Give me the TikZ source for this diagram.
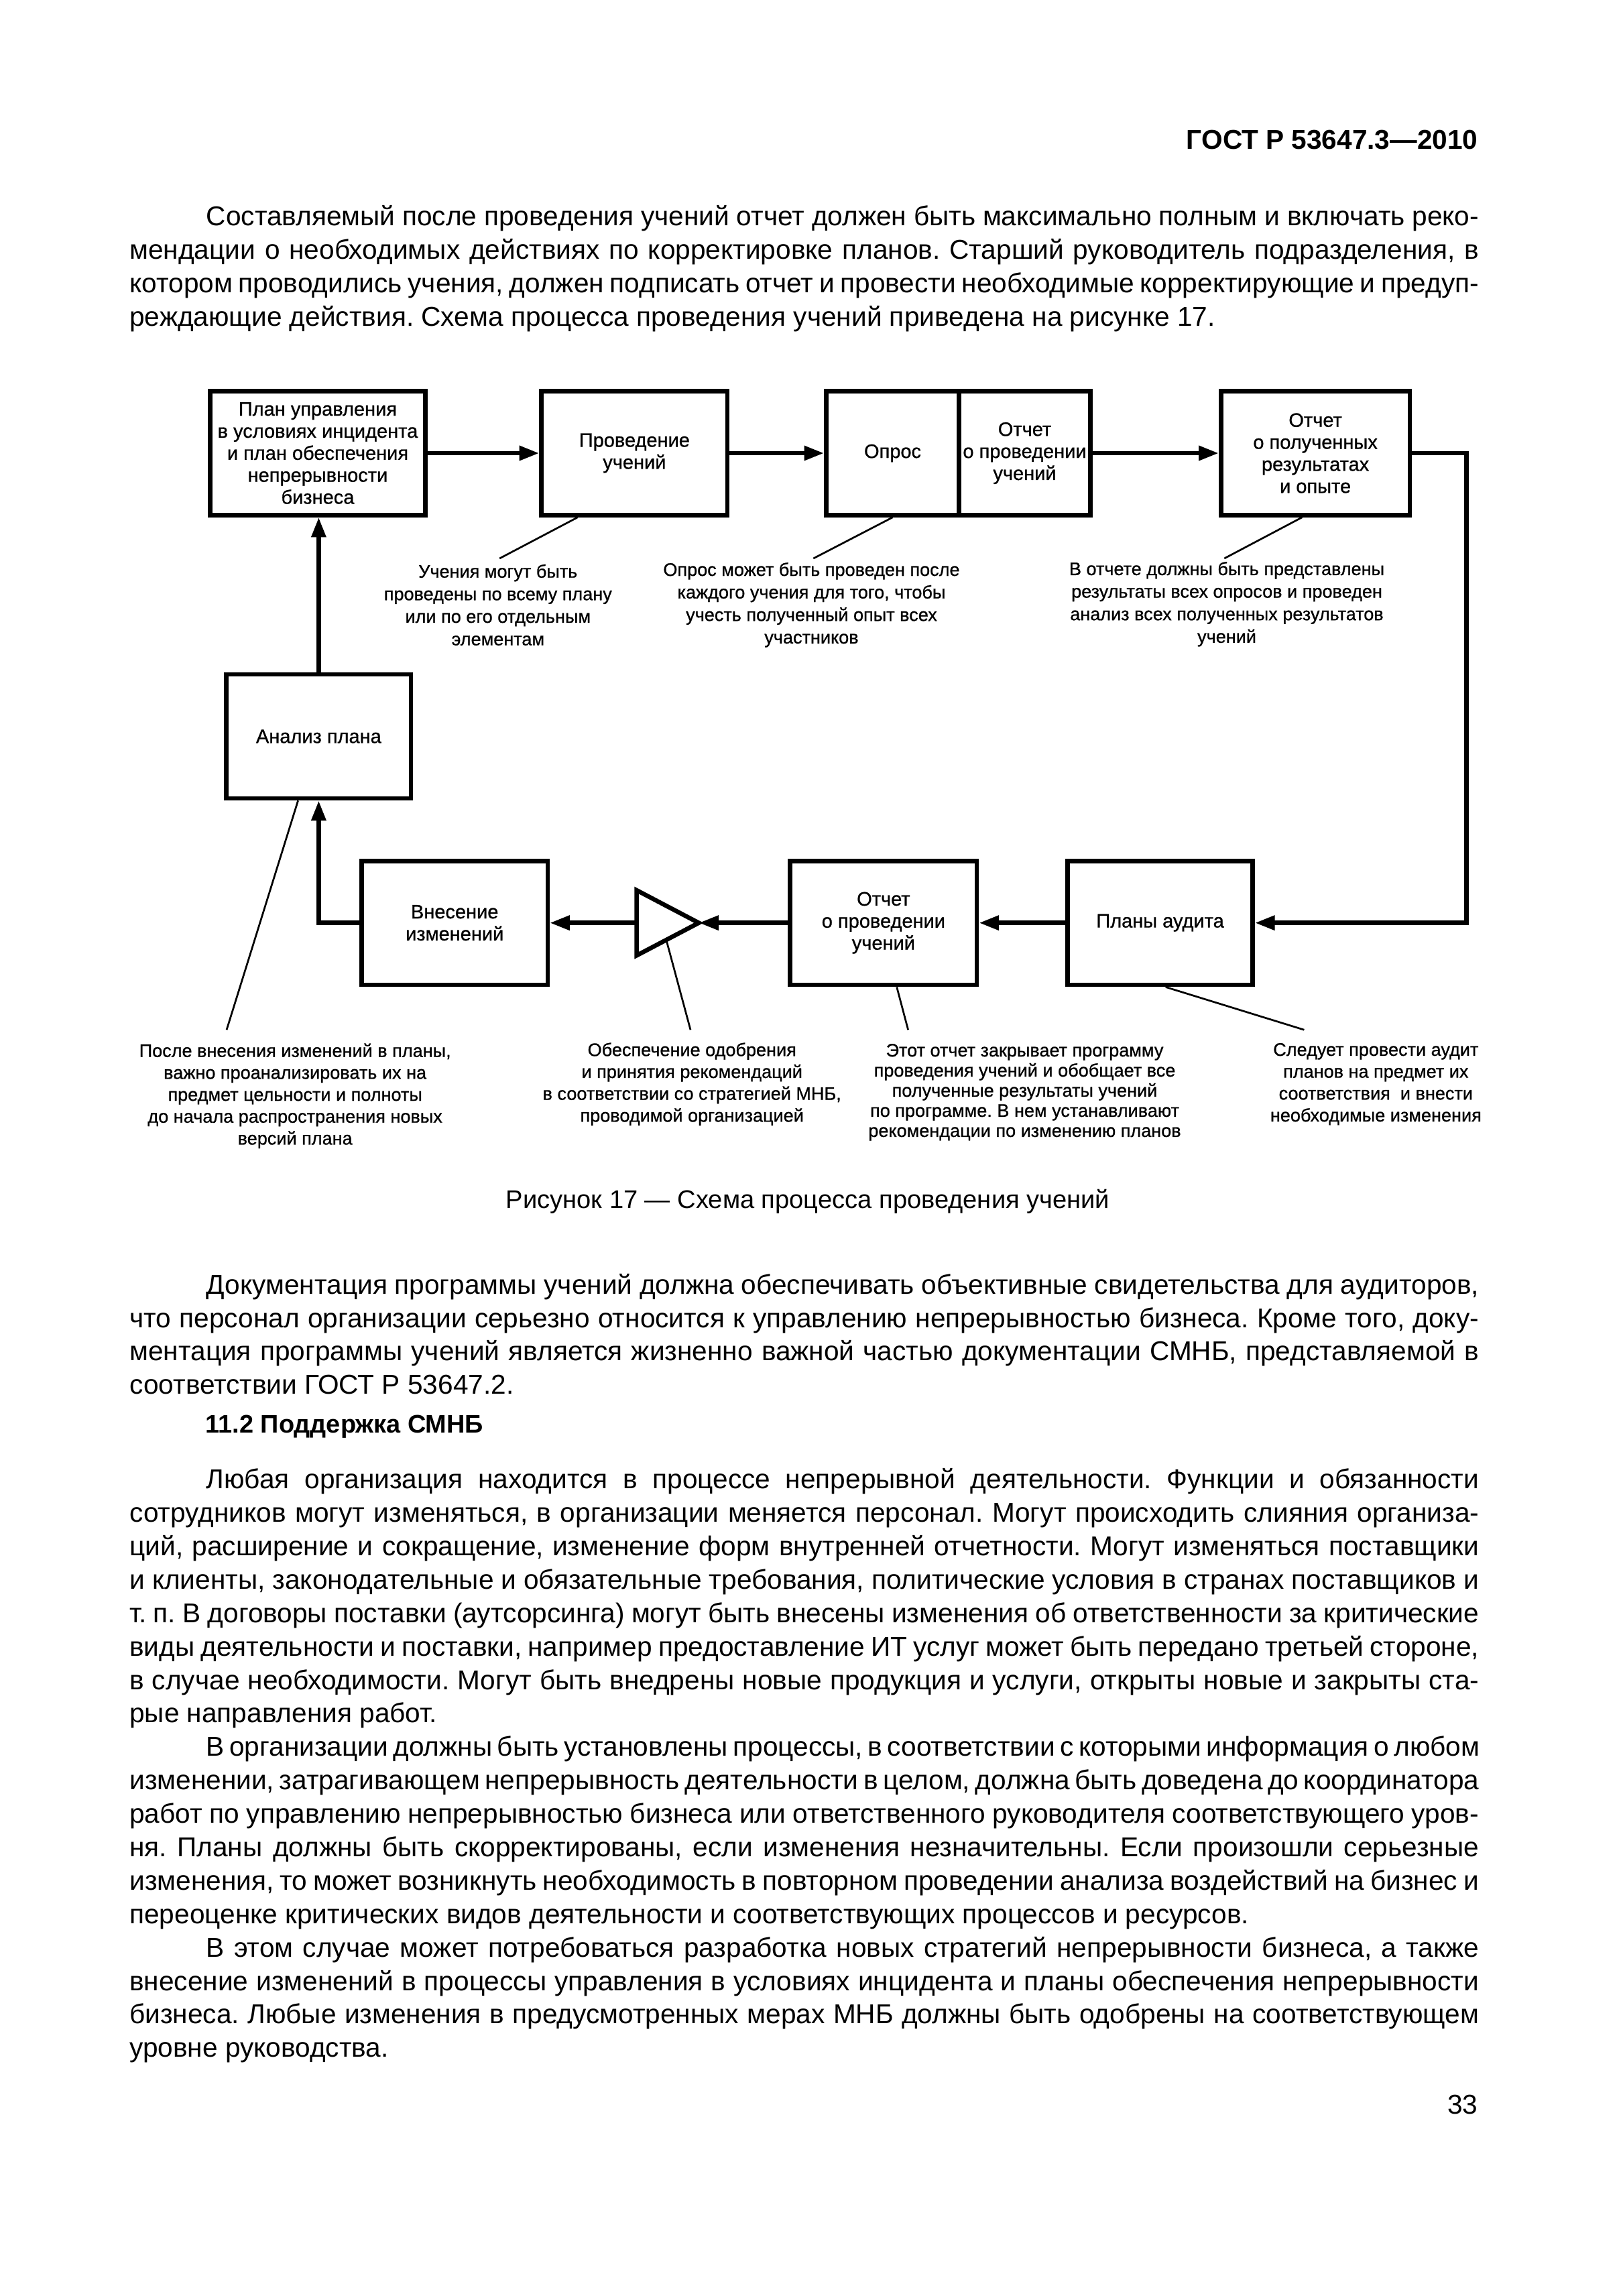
\documentclass[tikz,border=0pt]{standalone}
\usepackage{fontspec}
\setmainfont{Liberation Sans}
\newfontfamily\diagfont{Liberation Sans}[FakeBold=0.8]
\usetikzlibrary{arrows.meta,calc}
% lines of the page text: first (indented), justified, last
\newcommand\fline[1]{\hbox to\hsize{\hskip10.4mm #1}}
\newcommand\jline[1]{\hbox to\hsize{#1}}
\newcommand\lline[1]{\hbox{#1}}
\hbadness=10000
\hfuzz=3pt
\frenchspacing

\begin{document}
\begin{tikzpicture}[
    x=0.2mm, y=-0.2mm,
    base/.style={font={\diagfont\fontsize{7.5}{8.5}\selectfont},inner sep=0pt,align=center},
    box/.style={base,draw,line width=1.7pt,minimum width=25.2mm,minimum height=16.8mm},
    note/.style={font={\diagfont\fontsize{7}{8.7}\selectfont},inner sep=0pt,align=center},
    lownote/.style={note,font={\diagfont\fontsize{7}{8.45}\selectfont}},
    txt/.style={font={\fontsize{10.5}{12.9}\selectfont},inner sep=0pt},
    arr/.style={-{Triangle[length=2.7mm,width=1.9mm]},line width=1.7pt},
    leader/.style={line width=0.7pt},
]
    \fill[white] (0,0) rectangle (1100,1556.2);
    \useasboundingbox (0,0) rectangle (1100,1556.2);

    % Page head
    \node[txt,font={\bfseries\fontsize{10.5}{13}\selectfont},anchor=base east] (gost) at (1002,101) {ГОСТ Р 53647.3—2010};

    \node[txt,anchor=base west] (para1) at (87.5,153) {\vtop{\hsize=182.9mm
        \fline{Составляемый после проведения учений отчет должен быть максимально полным и включать реко-}
        \jline{мендации о необходимых действиях по корректировке планов. Старший руководитель подразделения, в}
        \jline{котором проводились учения, должен подписать отчет и провести необходимые корректирующие и предуп-}
        \lline{реждающие действия. Схема процесса проведения учений приведена на рисунке 17.}}};

    % Top row
    \node[box,minimum width=29.2mm] (plan) at (215.35,307.15) {План управления\\в условиях инцидента\\и план обеспечения\\непрерывности\\бизнеса};
    \node[box] (drill) at (430,307.15) {Проведение\\учений};
    \node[box,minimum width=18mm] (opros) at (605,307.15) {Опрос};
    \node[box,minimum width=17.8mm] (drillreport) at (694.5,307.15) {Отчет\\о проведении\\учений};
    \node[box,minimum width=25.6mm] (results) at (891.5,307.15) {Отчет\\о полученных\\результатах\\и опыте};

    % Bottom row
    \node[box,minimum width=25.04mm] (analysis) at (216,499.15) {Анализ плана};
    \node[box] (changes) at (308.15,625.5) {Внесение\\изменений};
    \node[box,minimum width=25.3mm] (report) at (598.8,625.5) {Отчет\\о проведении\\учений};
    \node[box,minimum width=25.1mm] (audit) at (786.3,625.5) {Планы аудита};

    % Approval triangle
    \coordinate (apptop) at (431.5,603.4);
    \coordinate (appbot) at (431.5,647.6);
    \coordinate (appback) at (431.5,625.5);
    \coordinate (apptip) at (473.6,625.5);
    \draw[line width=1.7pt] (apptop) -- (apptip) -- (appbot) -- cycle;

    % Arrows
    \coordinate (rturn) at (994,466);
    \draw[arr] (plan) -- (drill);
    \draw[arr] (drill) -- (opros);
    \draw[arr] (drillreport) -- (results);
    \draw[arr] (results.east) -| (rturn) |- (audit.east);
    \draw[arr] (audit) -- (report);
    \draw[arr] (report.west) -- (apptip);
    \draw[arr] (appback) -- (changes.east);
    \draw[arr] (changes.west) -| (analysis.south);
    \draw[arr] (analysis.north) -- (analysis.north |- plan.south);

    % Notes
    \node[note] (drillnote) at (337.5,410) {Учения могут быть\\проведены по всему плану\\или по его отдельным\\элементам};
    \node[note] (oprosnote) at (550,410) {Опрос может быть проведен после\\каждого учения для того, чтобы\\учесть полученный опыт всех\\участников};
    \node[note] (resultsnote) at (831.5,409.5) {В отчете должны быть представлены\\результаты всех опросов и проведен\\анализ всех полученных результатов\\учений};
    \node[lownote] (analysisnote) at (200,742.8) {После внесения изменений в планы,\\важно проанализировать их на\\предмет цельности и полноты\\до начала распространения новых\\версий плана};
    \node[lownote] (approvalnote) at (469,734.8) {Обеспечение одобрения\\и принятия рекомендаций\\в соответствии со стратегией МНБ,\\проводимой организацией};
    \node[note,font={\diagfont\fontsize{7}{7.75}\selectfont}] (reportnote) at (694.5,740.3) {Этот отчет закрывает программу\\проведения учений и обобщает все\\полученные результаты учений\\по программе. В нем устанавливают\\рекомендации по изменению планов};
    \node[lownote] (auditnote) at (932.5,734.8) {Следует провести аудит\\планов на предмет их\\соответствия~ и внести\\необходимые изменения};

    % Leaders
    \coordinate (drillend) at (338.6,378.5);
    \coordinate (oprosend) at (551.3,378.5);
    \coordinate (resultsend) at (829.8,378.5);
    \coordinate (analysisend) at (153.6,698);
    \coordinate (approvalend) at (468,698);
    \coordinate (reportend) at (615.5,698);
    \coordinate (auditend) at (883.9,698);
    \draw[leader] ([xshift=5.2mm]drill.south west) -- (drillend);
    \draw[leader] (opros.south) -- (oprosend);
    \draw[leader] ([xshift=-1.8mm]results.south) -- (resultsend);
    \draw[leader] ([xshift=-2.8mm]analysis.south) -- (analysisend);
    \draw[leader] ($(appbot)!0.477!(apptip)$) -- (approvalend);
    \draw[leader] ([xshift=1.8mm]report.south) -- (reportend);
    \draw[leader] ([xshift=0.74mm]audit.south) -- (auditend);

    % Caption
    \node[txt,font={\fontsize{9.85}{12}\selectfont},anchor=base] (caption) at (547.5,819) {Рисунок 17 — Схема процесса проведения учений};

    \node[txt,anchor=base west] (para2) at (87.5,877) {\vtop{\hsize=182.9mm
        \fline{Документация программы учений должна обеспечивать объективные свидетельства для аудиторов,}
        \jline{что персонал организации серьезно относится к управлению непрерывностью бизнеса. Кроме того, доку-}
        \jline{ментация программы учений является жизненно важной частью документации СМНБ, представляемой в}
        \lline{соответствии ГОСТ Р 53647.2.}}};

    \node[txt,font={\bfseries\fontsize{9.8}{12}\selectfont},anchor=base west] (section) at (139,971) {11.2 Поддержка СМНБ};

    \node[txt,anchor=base west] (para3) at (87.5,1009) {\vtop{\hsize=182.9mm
        \fline{Любая организация находится в процессе непрерывной деятельности. Функции и обязанности}
        \jline{сотрудников могут изменяться, в организации меняется персонал. Могут происходить слияния организа-}
        \jline{ций, расширение и сокращение, изменение форм внутренней отчетности. Могут изменяться поставщики}
        \jline{и клиенты, законодательные и обязательные требования, политические условия в странах поставщиков и}
        \jline{т. п. В договоры поставки (аутсорсинга) могут быть внесены изменения об ответственности за критические}
        \jline{виды деятельности и поставки, например предоставление ИТ услуг может быть передано третьей стороне,}
        \jline{в случае необходимости. Могут быть внедрены новые продукция и услуги, открыты новые и закрыты ста-}
        \lline{рые направления работ.}
        \fline{В организации должны быть установлены процессы, в соответствии с которыми информация о любом}
        \jline{изменении, затрагивающем непрерывность деятельности в целом, должна быть доведена до координатора}
        \jline{работ по управлению непрерывностью бизнеса или ответственного руководителя соответствующего уров-}
        \jline{ня. Планы должны быть скорректированы, если изменения незначительны. Если произошли серьезные}
        \jline{изменения, то может возникнуть необходимость в повторном проведении анализа воздействий на бизнес и}
        \lline{переоценке критических видов деятельности и соответствующих процессов и ресурсов.}
        \fline{В этом случае может потребоваться разработка новых стратегий непрерывности бизнеса, а также}
        \jline{внесение изменений в процессы управления в условиях инцидента и планы обеспечения непрерывности}
        \jline{бизнеса. Любые изменения в предусмотренных мерах МНБ должны быть одобрены на соответствующем}
        \lline{уровне руководства.}}};

    \node[txt,anchor=base east] (pagenum) at (1002,1433) {33};

\end{tikzpicture}
\end{document}
